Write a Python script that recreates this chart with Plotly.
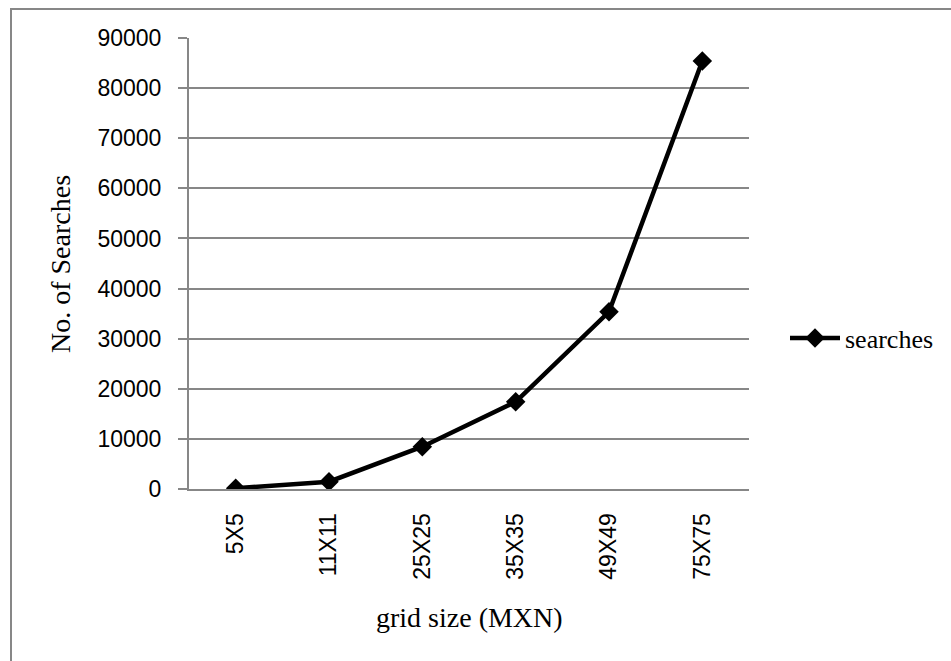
import plotly.graph_objects as go

# Grid sizes and the number of searches needed for each
grid_sizes = ["5X5", "11X11", "25X25", "35X35", "49X49", "75X75"]
searches = [150, 1450, 8450, 17400, 35350, 85400]
y_ticks = [0, 10000, 20000, 30000, 40000, 50000, 60000, 70000, 80000, 90000]

GRID = "#878787"
SANS = "Liberation Sans"
SERIF = "Liberation Serif"

fig = go.Figure()
fig.add_trace(go.Scatter(
    x=grid_sizes,
    y=searches,
    mode="lines+markers",
    name="searches",
    line=dict(color="black", width=4.5),
    marker=dict(symbol="diamond", size=15, color="black"),
))

W, H = 951, 661
L, R, T, B = 189, 202, 38, 172
pw, ph = W - L - R, H - T - B

def px(x):
    return (x - L) / pw

def py(y):
    return (T + ph - y) / ph

fig.update_layout(
    width=W,
    height=H,
    margin=dict(l=L, r=R, t=T, b=B, pad=0),
    paper_bgcolor="white",
    plot_bgcolor="white",
    showlegend=True,
    legend=dict(
        x=px(785), y=py(338), xanchor="left", yanchor="middle",
        font=dict(family=SERIF, size=26, color="black"),
        bgcolor="rgba(0,0,0,0)",
        itemwidth=50,
    ),
    xaxis=dict(
        type="category",
        categoryorder="array",
        categoryarray=grid_sizes,
        range=[-0.5, len(grid_sizes) - 0.5],
        showgrid=False,
        showline=True,
        linecolor=GRID,
        linewidth=2,
        ticks="",
        tickangle=-90,
        ticklabelstandoff=13,
        tickfont=dict(family=SANS, size=23, color="black"),
        zeroline=False,
    ),
    yaxis=dict(
        range=[0, 90000],
        tickvals=y_ticks,
        ticktext=[str(v) for v in y_ticks],
        showgrid=True,
        gridcolor=GRID,
        gridwidth=1.5,
        showline=True,
        linecolor=GRID,
        linewidth=2,
        ticks="outside",
        ticklen=9,
        tickcolor=GRID,
        tickwidth=1.5,
        ticklabelstandoff=12,
        tickfont=dict(family=SANS, size=23, color="black"),
        zeroline=False,
    ),
    annotations=[
        dict(text="grid size (MXN)", xref="paper", yref="paper",
             x=px(469), y=py(617), xanchor="center", yanchor="middle",
             showarrow=False, font=dict(family=SERIF, size=28, color="black")),
        dict(text="No. of Searches", xref="paper", yref="paper",
             x=px(60), y=py(264), xanchor="center", yanchor="middle",
             textangle=-90, showarrow=False,
             font=dict(family=SERIF, size=28, color="black")),
    ],
    shapes=[
        dict(type="rect", xref="paper", yref="paper",
             x0=px(11), x1=px(960), y0=py(9), y1=py(680),
             line=dict(color=GRID, width=2), fillcolor="rgba(0,0,0,0)",
             layer="below"),
    ],
)

fig.write_html("out.html")
